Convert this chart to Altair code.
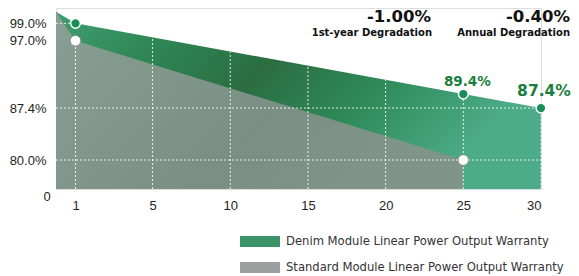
import altair as alt
import pandas as pd

# ---------------- data ----------------
denim_years = [0, 1, 30]
denim_values = [100.0, 99.0, 87.4]
standard_years = [0, 1, 25]
standard_values = [100.0, 97.0, 80.0]

tick_years = [1, 5, 10, 15, 20, 25, 30]
grid_tops = [97.0, 97.4, 95.4, 93.4, 91.4, 89.4, 87.4]
grid_bottoms = [0, 0, 0, 0, 0, 0, 0]
y_tick_values = [80.0, 87.4, 97.0, 99.0]

ref_values = [99.0, 87.4, 80.0]
ref_start = [0, 0, 0]
ref_end = [1, 30, 30]

green_dot_years = [1, 25, 30]
green_dot_values = [99.0, 89.4, 87.4]
white_dot_years = [1, 25]
white_dot_values = [97.0, 80.0]

series_names = ["Denim Module Linear Power Output Warranty",
                "Standard Module Linear Power Output Warranty"]
headline_values = ["-1.00%", "-0.40%"]
headline_captions = ["1st-year Degradation", "Annual Degradation"]

# ---------------- tables ----------------
denim_df = pd.DataFrame({"year": denim_years, "value": denim_values})
std_df = pd.DataFrame({"year": standard_years, "value": standard_values})
grid_df = pd.DataFrame({"year": tick_years, "top": grid_tops, "bottom": grid_bottoms})
ref_df = pd.DataFrame({"value": ref_values, "year": ref_start, "x1": ref_end})
green_df = pd.DataFrame({"year": green_dot_years, "value": green_dot_values})
white_df = pd.DataFrame({"year": white_dot_years, "value": white_dot_values})
legend_df = pd.DataFrame({"year": [1, 1], "value": [99.0, 97.0], "series": series_names})
zero_df = pd.DataFrame({"year": [0], "value": [0], "label": ["0"]})

# piecewise scales (the original axis is not evenly spaced)
xs = alt.Scale(domain=[0, 1, 5, 30], range=[0, 19.5, 96.6, 485], zero=False, nice=False)
ys = alt.Scale(domain=[0, 80, 97, 99, 100], range=[181, 152, 32.7, 15.3, 3.7], zero=False, nice=False)

axis_font = "Liberation Sans"
x_axis = alt.Axis(values=tick_years, title=None, grid=False, domain=False, ticks=False,
                  labelFont=axis_font, labelFontSize=13, labelColor="#231f20",
                  labelPadding=10, format="d")
y_axis = alt.Axis(values=y_tick_values, title=None, grid=False, domain=False, ticks=False,
                  labelFont=axis_font, labelFontSize=13, labelColor="#231f20",
                  labelPadding=10, labelExpr="format(datum.value, '.1f') + '%'")


def X(f="year"):
    return alt.X(f"{f}:Q", scale=xs, axis=x_axis, title=None)


def Y(f="value"):
    return alt.Y(f"{f}:Q", scale=ys, axis=y_axis, title=None)


green_grad = alt.LinearGradient(
    gradient="linear",
    stops=[alt.GradientStop(color="#3f9f72", offset=0),
           alt.GradientStop(color="#2e8553", offset=0.25),
           alt.GradientStop(color="#2b6d41", offset=0.48),
           alt.GradientStop(color="#2e8a57", offset=0.72),
           alt.GradientStop(color="#4cab88", offset=1)],
    x1=0, x2=1, y1=0, y2=0.35)
gray_grad = alt.LinearGradient(
    gradient="linear",
    stops=[alt.GradientStop(color="#889f94", offset=0),
           alt.GradientStop(color="#7a8f84", offset=0.65),
           alt.GradientStop(color="#7f958a", offset=1)],
    x1=0, x2=1, y1=0, y2=0.4)

denim_area = alt.Chart(denim_df).mark_area(color=green_grad).encode(x=X(), y=Y())
std_area = alt.Chart(std_df).mark_area(color=gray_grad).encode(x=X(), y=Y())

vgrid = alt.Chart(grid_df).mark_rule(color="white", strokeDash=[2, 2], strokeWidth=1, opacity=0.85).encode(
    x=X(), y=Y("bottom"), y2="top:Q")

hgrid = alt.Chart(ref_df).mark_rule(color="white", strokeDash=[2, 2], strokeWidth=1, opacity=0.85).encode(
    x=X(), x2="x1:Q", y=Y())

white_dots = alt.Chart(white_df).mark_circle(size=110, color="white", opacity=1,
                                             stroke="#8a8a8a", strokeWidth=0.8).encode(x=X(), y=Y())
green_dots = alt.Chart(green_df).mark_circle(size=95, color="#188f59", opacity=1,
                                             stroke="white", strokeWidth=1.5).encode(x=X(), y=Y())

label_small = alt.Chart(green_df[green_df.year == 25]).transform_calculate(
    t="format(datum.value, '.1f') + '%'").mark_text(
    font="DejaVu Sans", fontWeight="bold", fontSize=13.5, color="#1a7f3e",
    dx=4, dy=-12, baseline="middle").encode(x=X(), y=Y(), text="t:N")

label_big = alt.Chart(green_df[green_df.year == 30]).transform_calculate(
    t="format(datum.value, '.1f') + '%'").mark_text(
    font="DejaVu Sans", fontWeight="bold", fontSize=15.5, color="#1a7f3e",
    dx=3, dy=-17, baseline="middle").encode(x=X(), y=Y(), text="t:N")

zero_label = alt.Chart(zero_df).mark_text(
    font=axis_font, fontSize=13, color="#231f20", dx=-9, dy=8, baseline="middle").encode(
    x=X(), y=Y(), text="label:N")


def headline(txt, px, py, size):
    return alt.Chart(pd.DataFrame({"t": [txt]})).mark_text(
        font="DejaVu Sans", fontWeight="bold", fontSize=size, color="#111111", align="right",
        baseline="middle").encode(x=alt.value(px), y=alt.value(py), text="t:N")


head1 = headline(headline_values[0], 375, 9, 16.5)
head2 = headline(headline_values[1], 514, 9, 16.5)
cap1 = headline(headline_captions[0], 376, 25, 10)
cap2 = headline(headline_captions[1], 514, 25, 10)

legend_layer = alt.Chart(legend_df).mark_square(opacity=0, size=10).encode(
    x=X(), y=Y(),
    color=alt.Color("series:N",
                    scale=alt.Scale(domain=series_names, range=["#3a9468", "#9c9f9e"]),
                    legend=alt.Legend(title=None, orient="none", legendX=184, legendY=227,
                                      symbolType="M-1,-0.275H1V0.275H-1Z", symbolSize=1600,
                                      symbolOpacity=1, symbolStrokeWidth=0,
                                      clipHeight=13, rowPadding=13, labelOffset=6,
                                      labelFont="DejaVu Sans", labelFontSize=11.6,
                                      labelColor="#333333", labelLimit=400)))

chart = alt.layer(
    denim_area, std_area, vgrid, hgrid, white_dots, green_dots,
    label_small, label_big, zero_label, head1, head2, cap1, cap2, legend_layer
).properties(
    width=485, height=181,
    autosize=alt.AutoSizeParams(type="none"),
    padding={"left": 48, "top": 0, "right": 30, "bottom": 85},
).configure_view(stroke=None).configure(background="white")

chart.save("out.html", embed_options={"renderer": "svg", "actions": False})
